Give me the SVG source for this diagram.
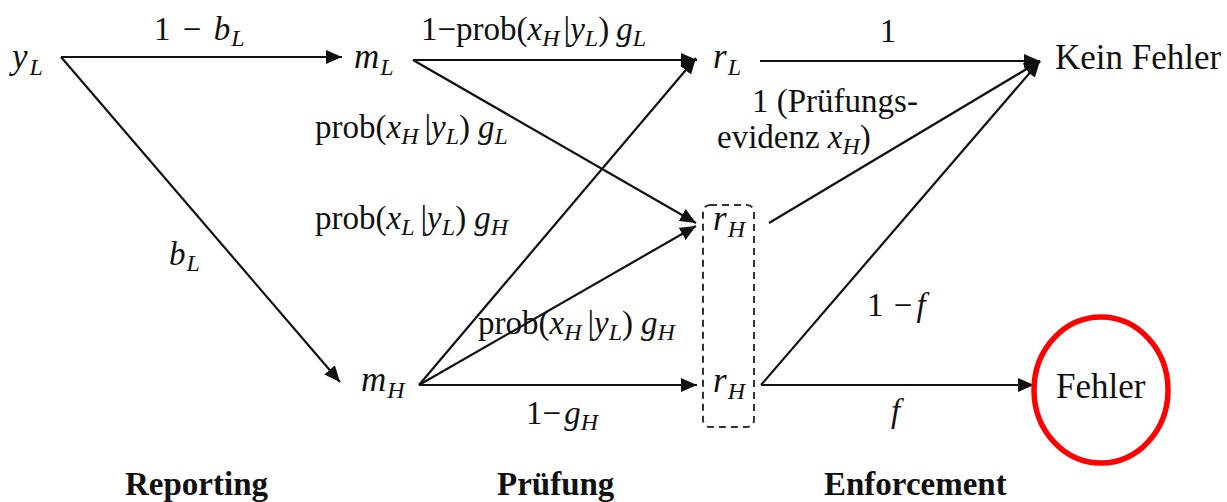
<svg xmlns="http://www.w3.org/2000/svg" width="1227" height="502" viewBox="0 0 1227 502">
<style>
.t{font-family:"Liberation Serif","Times New Roman",serif;fill:#111;}
.n{font-size:35px;}
.l{font-size:33px;}
.i{font-style:italic;}
.s{font-size:24px;font-style:italic;}
.h{font-weight:bold;font-size:33px;}
.c line{stroke:#111;stroke-width:2.2;fill:none;}
.a{marker-end:url(#ah);}
</style>
<defs>
<marker id="ah" markerUnits="userSpaceOnUse" markerWidth="16" markerHeight="14" refX="16" refY="7" orient="auto">
<path d="M0,0 L16,7 L0,14 z" fill="#111"/>
</marker>
</defs>
<rect width="1227" height="502" fill="#fff"/>
<g id="connectors" class="c">
<line class="a" x1="61" y1="57" x2="342" y2="57"/>
<line class="a" x1="61" y1="57" x2="340" y2="382"/>
<line class="a" x1="413" y1="60" x2="697" y2="60"/>
<line class="a" x1="413" y1="60" x2="696" y2="223"/>
<line class="a" x1="419" y1="385" x2="696" y2="58"/>
<line class="a" x1="419" y1="385" x2="696" y2="226"/>
<line class="a" x1="419" y1="385" x2="697" y2="385"/>
<line class="a" x1="760" y1="61" x2="1040" y2="61"/>
<line class="a" x1="769" y1="223" x2="1040" y2="61"/>
<line class="a" x1="761" y1="385" x2="1040" y2="61"/>
<line class="a" x1="761" y1="385" x2="1034" y2="385"/>
</g>
<g id="edge-labels" class="t l">
<text x="154" y="40">1 <tspan dx="4">−</tspan> <tspan class="i" dx="4">b</tspan><tspan class="s" dy="6" dx="1">L</tspan></text>
<text x="421" y="40">1−prob(<tspan class="i">x</tspan><tspan class="s" dy="6">H</tspan><tspan dy="-6" dx="4">|</tspan><tspan class="i">y</tspan><tspan class="s" dy="6">L</tspan><tspan dy="-6">)</tspan><tspan class="i" dx="7">g</tspan><tspan class="s" dy="6">L</tspan></text>
<text x="888" y="42" text-anchor="middle">1</text>
<text x="752" y="112">1 (Prüfungs-</text>
<text x="717" y="148">evidenz <tspan class="i">x</tspan><tspan class="s" dy="6">H</tspan><tspan dy="-6">)</tspan></text>
<text x="315" y="138">prob(<tspan class="i">x</tspan><tspan class="s" dy="6">H</tspan><tspan dy="-6" dx="6">|</tspan><tspan class="i">y</tspan><tspan class="s" dy="6">L</tspan><tspan dy="-6">)</tspan><tspan class="i" dx="8">g</tspan><tspan class="s" dy="6">L</tspan></text>
<text x="315" y="229">prob(<tspan class="i">x</tspan><tspan class="s" dy="6">L</tspan><tspan dy="-6" dx="6">|</tspan><tspan class="i">y</tspan><tspan class="s" dy="6">L</tspan><tspan dy="-6">)</tspan><tspan class="i" dx="8">g</tspan><tspan class="s" dy="6">H</tspan></text>
<text x="169" y="265"><tspan class="i">b</tspan><tspan class="s" dy="6" dx="1">L</tspan></text>
<text x="478" y="334">prob(<tspan class="i">x</tspan><tspan class="s" dy="6">H</tspan><tspan dy="-6" dx="6">|</tspan><tspan class="i">y</tspan><tspan class="s" dy="6">L</tspan><tspan dy="-6">)</tspan><tspan class="i" dx="8">g</tspan><tspan class="s" dy="6">H</tspan></text>
<text x="526" y="424">1−<tspan class="i" dx="3">g</tspan><tspan class="s" dy="6">H</tspan></text>
<text x="867" y="316">1 <tspan dx="2">−</tspan><tspan class="i" dx="4">f</tspan></text>
<text x="891" y="422" class="i">f</text>
</g>
<g id="node-yL" class="t n"><text x="12" y="68"><tspan class="i">y</tspan><tspan class="s" dy="7" dx="2">L</tspan></text></g>
<g id="node-mL" class="t n"><text x="354" y="68"><tspan class="i">m</tspan><tspan class="s" dy="7" dx="1">L</tspan></text></g>
<g id="node-rL" class="t n"><text x="713" y="68"><tspan class="i">r</tspan><tspan class="s" dy="7" dx="1">L</tspan></text></g>
<g id="node-mH" class="t n"><text x="361" y="391"><tspan class="i">m</tspan><tspan class="s" dy="7" dx="1">H</tspan></text></g>
<g id="node-rH-group">
<rect x="703" y="205" width="51" height="222" rx="7" fill="none" stroke="#333" stroke-width="2" stroke-dasharray="7,5"/>
</g>
<g id="node-rH-top" class="t n"><text x="713" y="230"><tspan class="i">r</tspan><tspan class="s" dy="7" dx="1">H</tspan></text></g>
<g id="node-rH-bottom" class="t n"><text x="713" y="392"><tspan class="i">r</tspan><tspan class="s" dy="7" dx="1">H</tspan></text></g>
<g id="node-kein-fehler" class="t n"><text x="1055" y="69">Kein Fehler</text></g>
<g id="node-fehler">
<ellipse cx="1101" cy="390" rx="67" ry="73" fill="none" stroke="#f00" stroke-width="5.5"/>
<text class="t n" x="1056" y="398">Fehler</text>
</g>
<g id="stage-labels" class="t h">
<text x="125" y="495">Reporting</text>
<text x="497" y="495">Prüfung</text>
<text x="824" y="495">Enforcement</text>
</g>
</svg>
